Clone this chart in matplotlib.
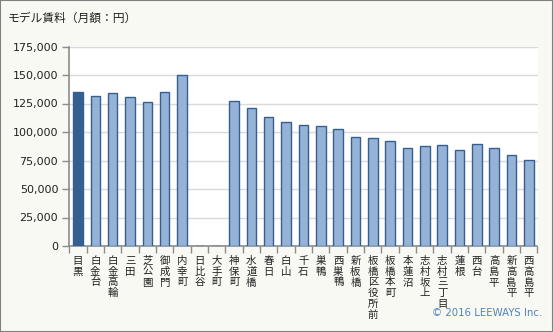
#!/usr/bin/env python3
"""
Model rent bar chart (monthly, yen) per station.
"""
import matplotlib
matplotlib.use("Agg")
import matplotlib.pyplot as plt
from matplotlib.patches import Rectangle
from matplotlib.ticker import FuncFormatter

# --------------------------------- DATA --------------------------------------
stations = ["目黒", "白金台", "白金高輪", "三田", "芝公園", "御成門", "内幸町",
            "日比谷", "大手町", "神保町", "水道橋", "春日", "白山", "千石",
            "巣鴨", "西巣鴨", "新板橋", "板橋区役所前", "板橋本町", "本蓮沼",
            "志村坂上", "志村三丁目", "蓮根", "西台", "高島平", "新高島平",
            "西高島平"]
rent = [135000, 131500, 134100, 130700, 126200, 135000, 150000,
        0, 0, 127100, 121000, 113000, 108600, 106000,
        105000, 102300, 95300, 94400, 91800, 85600,
        87400, 88200, 83900, 89100, 85600, 79500,
        75100]
highlight = "目黒"
title = "モデル賃料（月額：円）"
credit = "© 2016 LEEWAYS Inc."
y_max = 175000
y_step = 25000
# --------------------------------- DATA --------------------------------------

plt.rcParams["font.family"] = ["DejaVu Sans", "Noto Sans CJK JP"]
jp_font = "Noto Sans CJK JP"

BG = "#f7f9f2"
DARK = "#365f91"
LIGHT = "#95b3d7"
AXIS = "#8c8c8c"

fig = plt.figure(figsize=(5.53, 3.32), dpi=100, facecolor=BG)
ax = fig.add_axes([69.3 / 553, 1 - 246 / 332, 468.2 / 553, 199.5 / 332])
ax.set_facecolor("white")

x = list(range(len(stations)))
colors = [DARK if s == highlight else LIGHT for s in stations]
ax.bar(x, rent, width=0.55, color=colors, edgecolor=DARK, linewidth=1.0,
       zorder=3)

ax.set_xlim(-0.5, len(stations) - 0.5)
ax.set_ylim(0, y_max)
ax.set_yticks(range(0, y_max + 1, y_step))
ax.yaxis.set_major_formatter(FuncFormatter(lambda v, p: f"{int(v):,}"))
ax.grid(axis="y", color="#d9d9d9", linewidth=1.0, zorder=0)

# labels at the bar centres, tick marks at the category borders
ax.set_xticks(x)
ax.set_xticklabels(["\n".join(s) for s in stations], family=jp_font,
                   fontsize=7.5, va="top", ha="center", linespacing=1.11,
                   color="#222222")
ax.set_xticks([i - 0.5 for i in range(len(stations) + 1)], minor=True)
ax.tick_params(axis="x", which="major", length=0, pad=7)
ax.tick_params(axis="x", which="minor", length=5, color=AXIS, width=1)
ax.tick_params(axis="y", length=5, color=AXIS, width=1, labelsize=8,
               pad=3, labelcolor="#222222")

for side in ("top", "right"):
    ax.spines[side].set_visible(False)
for side in ("left", "bottom"):
    ax.spines[side].set_color(AXIS)
    ax.spines[side].set_linewidth(1.2)

fig.text(8 / 553, 1 - 18 / 332, title, family=jp_font, fontsize=8.5,
         va="center", ha="left", color="#222222")
fig.text(542 / 553, 1 - 313 / 332, credit, fontsize=7.3, va="center",
         ha="right", color="#4f81bd")

# thin frame round the whole picture
fig.patches.append(Rectangle((0, 0), 1, 1, transform=fig.transFigure,
                             fill=False, edgecolor="#808080", linewidth=1.5))

fig.savefig("out.png", dpi=100, facecolor=BG)
